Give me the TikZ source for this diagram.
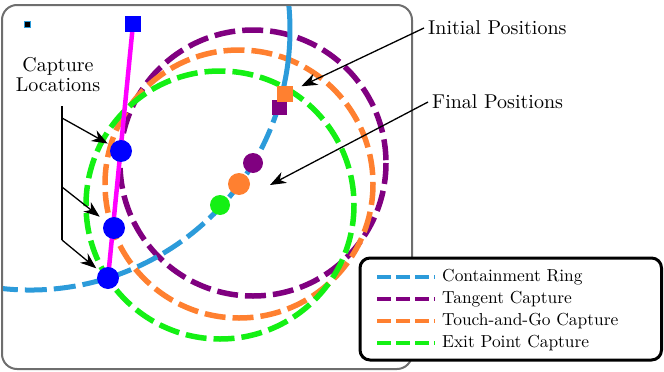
\documentclass[tikz,border=0pt]{standalone}
\usepackage{fontspec}
\setmainfont{lmroman10-regular.otf}
\usepackage{tikz}
\usetikzlibrary{arrows.meta,positioning}
\definecolor{ringblue}{RGB}{44,155,218}
\definecolor{tanpurple}{RGB}{128,0,128}
\definecolor{tagorange}{RGB}{255,128,48}
\definecolor{exitgreen}{RGB}{20,240,20}
\definecolor{framegray}{RGB}{110,110,110}
\definecolor{pathmagenta}{RGB}{255,0,255}

\begin{document}
\begin{tikzpicture}[x=1pt,y=-1pt,every node/.style={font=\fontsize{20}{20}\selectfont},
  capdash/.style={line width=5.5pt,dash pattern=on 21pt off 7pt},
  legdash/.style={line width=4pt,dash pattern=on 14pt off 5pt},
  dot/.style={circle,inner sep=0pt,minimum size=#1},
  sq/.style={rectangle,inner sep=0pt,minimum size=#1},
  pointer/.style={-{Stealth[length=16pt,width=12pt,inset=5pt]},line width=1.3pt}]
\useasboundingbox (0,0) rectangle (664,372);
\draw[framegray,line width=2pt,rounded corners=15pt] (2,5) rectangle (412,369);
% capture circles
\draw[capdash,tanpurple] (253,163) circle[radius=133];
\draw[capdash,tagorange] (239,184) circle[radius=134];
\draw[capdash,exitgreen] (220,205) circle[radius=134];
% containment ring
\begin{scope}
\clip[rounded corners=15pt] (3,6) rectangle (411,368);
\draw[ringblue,line width=5pt] (30,30) ++(-8:260) arc[start angle=-8,end angle=16,radius=260];
\draw[ringblue,line width=5pt,dash pattern=on 22pt off 7pt] (30,30) ++(16:260) arc[start angle=16,end angle=100,radius=260];
\end{scope}
% pursuer path
\coordinate (p0) at (133,24);
\coordinate (p1) at (121,151);
\coordinate (p2) at (114,228);
\coordinate (p3) at (108,278);
\draw[pathmagenta,line width=4.5pt] (p0) -- (p3);
\node[sq=16pt,fill=blue] (start) at (p0) {};
\node[dot=22pt,fill=blue] (cap1) at (p1) {};
\node[dot=22pt,fill=blue] (cap2) at (p2) {};
\node[dot=22pt,fill=blue] (cap3) at (p3) {};
\node[sq=6pt,fill=black,draw=ringblue,line width=0.6pt] (origin) at (27,24) {};
% initial and final positions
\node[sq=15pt,fill=tanpurple] (sqp) at (279,107) {};
\node[sq=16pt,fill=tagorange] (sqo) at (285,94) {};
\node[dot=20pt,fill=tanpurple] (endp) at (253,163) {};
\node[dot=22pt,fill=tagorange] (endo) at (239,184) {};
\node[dot=20pt,fill=exitgreen] (endg) at (220,205) {};
% labels
\node[anchor=west,inner sep=4pt] (init) at (424,28) {Initial Positions};
\node[anchor=west,inner sep=4pt] (fin) at (428,102) {Final Positions};
\node[align=center] (caplbl) at (58,75) {Capture\\Locations};
\coordinate (fintip) at (270,185);
\draw[pointer,shorten >=9pt] (init.west) -- (sqo);
\draw[pointer] (fin.west) -- (fintip);
\coordinate (t0) at (62,106);
\coordinate (t1) at (62,118);
\coordinate (t2) at (62,187);
\coordinate (t3) at (62,240);
\draw[line width=1.3pt] (t0) -- (t3);
\draw[pointer,shorten >=4pt] (t1) -- (cap1);
\draw[pointer,shorten >=7pt] (t2) -- (cap2);
\draw[pointer,shorten >=4pt] (t3) -- (cap3);
% legend
\draw[line width=3pt,rounded corners=10pt,fill=white] (360,258) rectangle (661.5,360);
\foreach \col/\txt [count=\i] in {ringblue/Containment Ring,tanpurple/Tangent Capture,tagorange/Touch-and-Go Capture,exitgreen/Exit Point Capture}{
  \draw[legdash,\col] (377,{255+22*\i}) -- ++(58,0);
  \node[anchor=west,inner sep=4pt,font=\fontsize{17.4}{20}\selectfont] (leg\i) at (438,{255+22*\i}) {\txt};
}
\end{tikzpicture}
\end{document}
